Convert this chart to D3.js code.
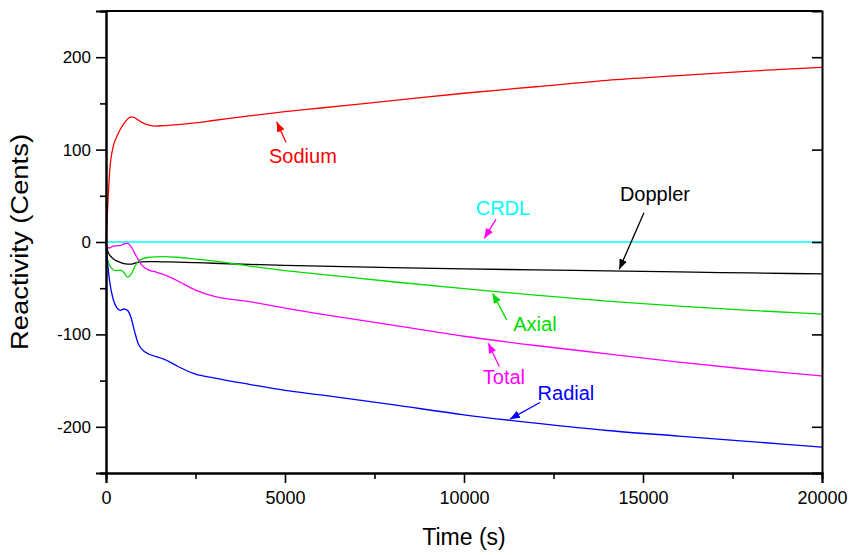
<!DOCTYPE html>
<html>
<head>
<meta charset="utf-8">
<script src="https://cdn.jsdelivr.net/npm/d3@7"></script>
<style>
  body { margin: 0; background: #fff; }
  text { font-family: "Liberation Sans", Arial, sans-serif; }
</style>
</head>
<body>
<script>
const width = 853;
const height = 555;
const margin = {left: 106, right: 31, top: 11, bottom: 82};

// time (s) shared by every curve
const time = [0, 50, 100, 200, 300, 400, 500, 600, 700, 800, 900, 1000, 1200, 1400, 1600,
  2000, 2500, 3000, 4000, 5000, 6000, 8000, 10000, 12000, 14000, 16000, 18000, 20000];

// reactivity (cents)
const sodium = [0, 40, 75, 103, 114, 122, 128, 133, 135.5, 134.5, 132, 129.5, 126.5, 125.5, 126,
  127, 129, 131.5, 136.5, 141, 145, 153, 161, 168, 175, 180, 185, 189];
const crdl = [0, 0, 0, 0, 0, 0, 0, 0, 0, 0, 0, 0, 0, 0, 0,
  0, 0, 0, 0, 0, 0, 0, 0, 0, 0, 0, 0, 0];
const doppler = [0, -10, -14, -18, -20.5, -22, -23.5, -24, -24, -23, -22, -21.5, -21.3, -21.3, -21.5,
  -21.8, -22.4, -23, -24.2, -25.3, -26.2, -27.8, -29, -30.2, -31.3, -32.4, -33.5, -34.5];
const axial = [0, -20, -25, -30, -31, -30.5, -33, -38, -35, -27, -21, -18.5, -16.5, -16, -15.8,
  -16.5, -18.5, -20.5, -26, -31, -35, -43, -50.5, -57.5, -64, -69.5, -74, -78];
const total = [0, -6, -6.5, -4.5, -4, -4, -2, -1.5, -5, -12, -19, -25, -30.5, -32.5, -35,
  -42, -52, -58.5, -64.5, -71.5, -78, -90, -102, -112, -121, -130, -138, -145];
const radial = [0, -25, -42, -62, -71, -74, -72.5, -74, -82, -97, -110, -116, -121.5, -124, -126.5,
  -134.5, -143, -147, -154, -160.5, -165.5, -176, -187, -196, -204, -210, -216, -222];

const seriesNames = ["Sodium", "CRDL", "Doppler", "Axial", "Total", "Radial"];
const seriesValues = [sodium, crdl, doppler, axial, total, radial];
const seriesColors = ["#ff0000", "#00ffff", "#000000", "#00dd00", "#ff00ff", "#0000ff"];

const xMajor = [0, 5000, 10000, 15000, 20000];
const xMinor = [2500, 7500, 12500, 17500];
const yMajor = [-200, -100, 0, 100, 200];
const yMinor = [-250, -150, -50, 50, 150, 250];

// labels: [text, label t, label v, arrow tail t, tail v, head t, head v, arrow colour]
const notes = [
  ["Sodium", 5500, 93, 5027, 108, 4768, 130, "#ff0000"],
  ["CRDL", 11088, 37, 10893, 24.5, 10566, 4, "#ff00ff"],
  ["Doppler", 15334, 52, 15026, 31.7, 14337, -29.5, "#000000"],
  ["Axial", 11982, -88.6, 11192, -84.3, 10800, -55.5, "#00dd00"],
  ["Total", 11116, -146, 10985, -134.8, 10678, -109.5, "#ff00ff"],
  ["Radial", 12848, -163, 12122, -173.7, 11284, -191.7, "#0000ff"]
];

const x = d3.scaleLinear().domain([0, 20000]).range([margin.left, width - margin.right]);
const y = d3.scaleLinear().domain([-250, 250]).range([height - margin.bottom, margin.top]);

const svg = d3.select("body").append("svg")
  .attr("width", width)
  .attr("height", height);

const line = d3.line()
  .x((d, i) => x(time[i]))
  .y(d => y(d))
  .curve(d3.curveMonotoneX);

svg.append("g")
  .selectAll("path")
  .data(seriesValues)
  .enter()
  .append("path")
  .attr("d", d => line(d))
  .attr("fill", "none")
  .attr("stroke", (d, i) => seriesColors[i])
  .attr("stroke-width", 1.3);

// axes
const plain = d => String(d);
const styleAxis = g => {
  g.select(".domain").attr("stroke-width", 2);
  g.selectAll(".tick line").attr("stroke-width", 1.6);
  g.selectAll("text").attr("font-size", 17).attr("fill", "#000");
};

svg.append("g")
  .attr("transform", `translate(0,${y(-250)})`)
  .call(d3.axisBottom(x).tickValues(xMinor).tickSize(6).tickFormat(""))
  .call(styleAxis);
svg.append("g")
  .attr("transform", `translate(0,${y(-250)})`)
  .call(d3.axisBottom(x).tickValues(xMajor).tickSize(10).tickPadding(8).tickFormat(plain))
  .call(styleAxis)
  .selectAll("text").attr("font-size", 18);

svg.append("g")
  .attr("transform", `translate(${x(0)},0)`)
  .call(d3.axisLeft(y).tickValues(yMinor).tickSize(6).tickFormat(""))
  .call(styleAxis);
svg.append("g")
  .attr("transform", `translate(${x(0)},0)`)
  .call(d3.axisLeft(y).tickValues(yMajor).tickSize(10).tickPadding(5).tickFormat(plain))
  .call(styleAxis);

svg.append("g")
  .attr("transform", `translate(${x(20000)},0)`)
  .call(d3.axisRight(y).tickValues(yMajor).tickSize(-10).tickFormat(""))
  .call(styleAxis);

svg.append("line")
  .attr("x1", x(0)).attr("x2", x(20000))
  .attr("y1", y(250)).attr("y2", y(250))
  .attr("stroke", "#000").attr("stroke-width", 2);

// axis titles
svg.append("text")
  .attr("x", (x(0) + x(20000)) / 2)
  .attr("y", 545)
  .attr("text-anchor", "middle")
  .attr("font-size", 23)
  .text("Time (s)");

svg.append("text")
  .attr("transform", `translate(28,${y(0)}) rotate(-90)`)
  .attr("text-anchor", "middle")
  .attr("font-size", 23)
  .attr("textLength", 216)
  .attr("lengthAdjust", "spacingAndGlyphs")
  .text("Reactivity (Cents)");

// arrow heads
const defs = svg.append("defs");
const arrowColors = Array.from(new Set(notes.map(d => d[7])));
arrowColors.forEach((c, i) => {
  defs.append("marker")
    .attr("id", "arrow" + i)
    .attr("markerUnits", "userSpaceOnUse")
    .attr("markerWidth", 11)
    .attr("markerHeight", 8)
    .attr("refX", 10)
    .attr("refY", 4)
    .attr("orient", "auto")
    .append("path")
    .attr("d", "M0,0 L10,4 L0,8 Z")
    .attr("fill", c);
});

const ann = svg.append("g");
ann.selectAll("line")
  .data(notes)
  .enter()
  .append("line")
  .attr("x1", d => x(d[3])).attr("y1", d => y(d[4]))
  .attr("x2", d => x(d[5])).attr("y2", d => y(d[6]))
  .attr("stroke", d => d[7])
  .attr("stroke-width", 1.3)
  .attr("marker-end", d => `url(#arrow${arrowColors.indexOf(d[7])})`);

ann.selectAll("text")
  .data(notes)
  .enter()
  .append("text")
  .attr("x", d => x(d[1]))
  .attr("y", d => y(d[2]))
  .attr("dy", "0.36em")
  .attr("text-anchor", "middle")
  .attr("font-size", 20)
  .attr("fill", (d, i) => seriesColors[seriesNames.indexOf(d[0])])
  .text(d => d[0]);
</script>
</body>
</html>
